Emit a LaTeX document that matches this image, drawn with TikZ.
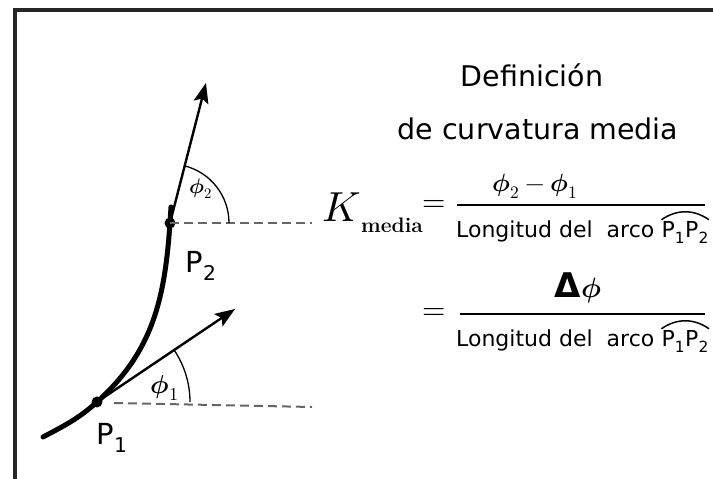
\documentclass[tikz,border=0pt]{standalone}
\usepackage{fontspec}
\usepackage{unicode-math}
\newfontfamily\handfont{DejaVu Sans}
\usetikzlibrary{arrows.meta}
\begin{document}
\begin{tikzpicture}[x=1pt,y=1pt,
  frame/.style={line width=4pt,black!85},
  curve/.style={line width=5pt,line cap=round},
  tangent/.style={line width=2.4pt,-{Stealth[length=20pt,width=15pt,inset=4pt]}},
  guide/.style={black!60,line width=2pt,dash pattern=on 9pt off 5pt},
  anglearc/.style={line width=1.3pt},
  dot/.style={circle,fill=black,inner sep=0pt,minimum size=11pt},
  ptlabel/.style={font=\handfont\fontsize{29}{32}\selectfont,inner sep=0pt},
  anglabel/.style={inner sep=0pt},
  title/.style={font=\handfont\fontsize{28.5}{30}\selectfont,inner sep=0pt,anchor=base},
  den/.style={font=\handfont\fontsize{22}{26}\selectfont,inner sep=0pt,anchor=base west},
  bar/.style={line width=2.2pt},
  parc/.style={line width=1.5pt}
]
\useasboundingbox (0,0) rectangle (713,479);
\fill[white] (0,0) rectangle (713,479);
% frame
\coordinate (fa) at (15,0);
\coordinate (fb) at (15,469);
\coordinate (fc) at (713,469);
\draw[frame] (fa) -- (fb) -- (fc);

% curve and points
\coordinate (start) at (43,42);
\coordinate (P1) at (97,77);
\coordinate (P2) at (170,256);
\coordinate (top) at (171,272);
\draw[curve] (start) to[out=28,in=222] (P1) to[out=42,in=-94] (P2) -- (top);
\node[dot] (d1) at (P1) {};
\node[dot] (d2) at (P2) {};

% tangents
\coordinate (T1) at (235,170);
\coordinate (T2) at (206,396);
\draw[tangent] (P1) -- (T1);
\draw[tangent] (P2) -- (T2);

% dashed horizontals
\coordinate (H1s) at (114,76);
\coordinate (H1e) at (312,72);
\coordinate (H2e) at (312,256);
\draw[guide] (H1s) -- (H1e);
\draw[guide] (P2) -- (H2e);

% angle arcs
\draw[anglearc] ([shift={(0:93)}]P1) arc[start angle=0,end angle=34,radius=93];
\draw[anglearc] ([shift={(0:59)}]P2) arc[start angle=0,end angle=76,radius=59];

% labels
\node[anglabel,font=\fontsize{26}{28}\selectfont] (phi1) at (165,91) {$\symbfit{\phi}_1$};
\node[anglabel,font=\fontsize{21}{23}\selectfont] (phi2) at (201,290) {$\symbfit{\phi}_2$};
\node[ptlabel] (lP1) at (112,41) {P\textsubscript{1}};
\node[ptlabel] (lP2) at (201,213) {P\textsubscript{2}};

% title
\node[title] (t1) at (532,392) {Definición};
\node[title] (t2) at (538,339) {de curvatura media};

% K media
\node[inner sep=0pt,anchor=base,font=\fontsize{42}{44}\selectfont] (K) at (342,257) {$K$};
\node[inner sep=0pt,anchor=base west,font=\fontsize{21}{22}\selectfont\bfseries] (med) at (361,246) {media};
\node[inner sep=0pt,font=\fontsize{30}{32}\selectfont] (eq1) at (434,273) {$=$};
\node[inner sep=0pt,font=\fontsize{30}{32}\selectfont] (eq2) at (434,165) {$=$};

% fraction 1
\coordinate (b1s) at (457,274);
\coordinate (b1e) at (705,274);
\draw[bar] (b1s) -- (b1e);
\node[inner sep=0pt,anchor=base,font=\fontsize{25}{27}\selectfont] (num1) at (535,287) {$\symbfit{\phi}_2-\symbfit{\phi}_1$};
\node[den] (den1a) at (456,241) {Longitud del\ \ arco};
\node[den] (den1b) at ([xshift=7pt]den1a.base east) {P\textsubscript{1}P\textsubscript{2}};
\draw[parc] ([yshift=2pt]den1b.north west) to[bend left=35] ([yshift=2pt]den1b.north east);

% fraction 2
\coordinate (b2s) at (460,165);
\coordinate (b2e) at (705,165);
\draw[bar] (b2s) -- (b2e);
\node[inner sep=0pt,anchor=base,font=\fontsize{28}{30}\selectfont] (num2) at (578,181) {{\handfont\bfseries\fontsize{34}{36}\selectfont Δ}$\symbfit{\phi}$};
\node[den] (den2a) at (456,132) {Longitud del\ \ arco};
\node[den] (den2b) at ([xshift=7pt]den2a.base east) {P\textsubscript{1}P\textsubscript{2}};
\draw[parc] ([yshift=2pt]den2b.north west) to[bend left=35] ([yshift=2pt]den2b.north east);
\end{tikzpicture}
\end{document}
